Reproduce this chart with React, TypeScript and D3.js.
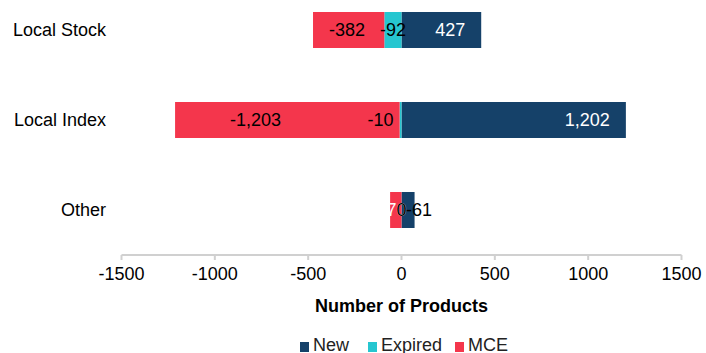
import React from "react";
import * as d3 from "d3";

const categories = ["Local Stock", "Local Index", "Other"];
const seriesNames = ["New", "Expired", "MCE"];
const newValues = [427, 1202, 70];
const expiredValues = [-92, -10, 0];
const mceValues = [-382, -1203, -61];
const xTicks = [-1500, -1000, -500, 0, 500, 1000, 1500];
const colors = ["#154169", "#26C6D0", "#F4364C"];

const W = 706;
const H = 353;
const FONT = "'Liberation Sans', Arial, sans-serif";

// label nudges (layout only)
const nudges: Record<string, number> = {
  "Local Index|MCE": 39,
  "Local Index|Expired": -20,
  "Other|New": 8,
  "Other|MCE": 0,
};

const fmt = (v: number) => d3.format(",")(v).replace("\u2212", "-");

export default function App() {
  const x = d3.scaleLinear().domain([-1500, 1500]).range([121.5, 681.5]);
  const y = d3
    .scaleBand<string>()
    .domain(categories)
    .range([-15, 255])
    .paddingInner(0.6)
    .paddingOuter(0.3);

  const segs: any[] = [];
  categories.forEach((c, i) => {
    const vals = [newValues[i], expiredValues[i], mceValues[i]];
    let pos = 0;
    let neg = 0;
    vals.forEach((v, s) => {
      let x0: number, x1: number;
      if (v > 0) {
        x0 = pos;
        x1 = pos + v;
        pos = x1;
      } else {
        x0 = neg + v;
        x1 = neg;
        neg = x0;
      }
      segs.push({ c, s, v, x0, x1 });
    });
  });

  const labelFor = (d: any) => {
    const key = `${d.c}|${seriesNames[d.s]}`;
    const n = nudges[key] || 0;
    let lx: number;
    let anchor: string;
    if (d.s === 0) {
      lx = x(d.x1) - 16;
      anchor = "end";
    } else if (d.s === 2) {
      lx = x(d.x0) + 16;
      anchor = "start";
    } else {
      lx = (x(d.x0) + x(d.x1)) / 2;
      anchor = "middle";
    }
    return { lx: lx + n, anchor };
  };

  const legendX = [300, 368, 455];

  return (
    <svg
      width={W}
      height={H}
      style={{ position: "absolute", left: 0, top: 0, background: "#fff" }}
      fontFamily={FONT}
    >
      {segs.map((d, i) => (
        <rect
          key={"r" + i}
          x={x(d.x0)}
          width={Math.max(0, x(d.x1) - x(d.x0))}
          y={y(d.c)!}
          height={y.bandwidth()}
          fill={colors[d.s]}
        />
      ))}
      {segs.map((d, i) => {
        const { lx, anchor } = labelFor(d);
        return (
          <text
            key={"l" + i}
            x={lx}
            y={y(d.c)! + y.bandwidth() / 2}
            dy="0.35em"
            fontSize={18}
            textAnchor={anchor}
            fill={d.s === 0 ? "#ffffff" : "#000000"}
          >
            {fmt(d.v)}
          </text>
        );
      })}
      {categories.map((c) => (
        <text
          key={c}
          x={106}
          y={y(c)! + y.bandwidth() / 2}
          dy="0.35em"
          fontSize={18}
          textAnchor="end"
          fill="#000"
        >
          {c}
        </text>
      ))}
      <line x1={x(-1500)} x2={x(1500)} y1={255} y2={255} stroke="#D0D0D0" strokeWidth={2} />
      {xTicks.map((t) => (
        <g key={t}>
          <line x1={x(t)} x2={x(t)} y1={255} y2={260} stroke="#D0D0D0" strokeWidth={2} />
          <text x={x(t)} y={280} fontSize={18} textAnchor="middle" fill="#000">
            {t}
          </text>
        </g>
      ))}
      <text x={x(0)} y={312} fontSize={18} fontWeight="bold" textAnchor="middle" fill="#000">
        Number of Products
      </text>
      {seriesNames.map((s, i) => (
        <g key={s}>
          <rect x={legendX[i]} y={342} width={9} height={10} fill={colors[i]} />
          <text x={legendX[i] + 13} y={351} fontSize={18} fill="#222">
            {s}
          </text>
        </g>
      ))}
    </svg>
  );
}
